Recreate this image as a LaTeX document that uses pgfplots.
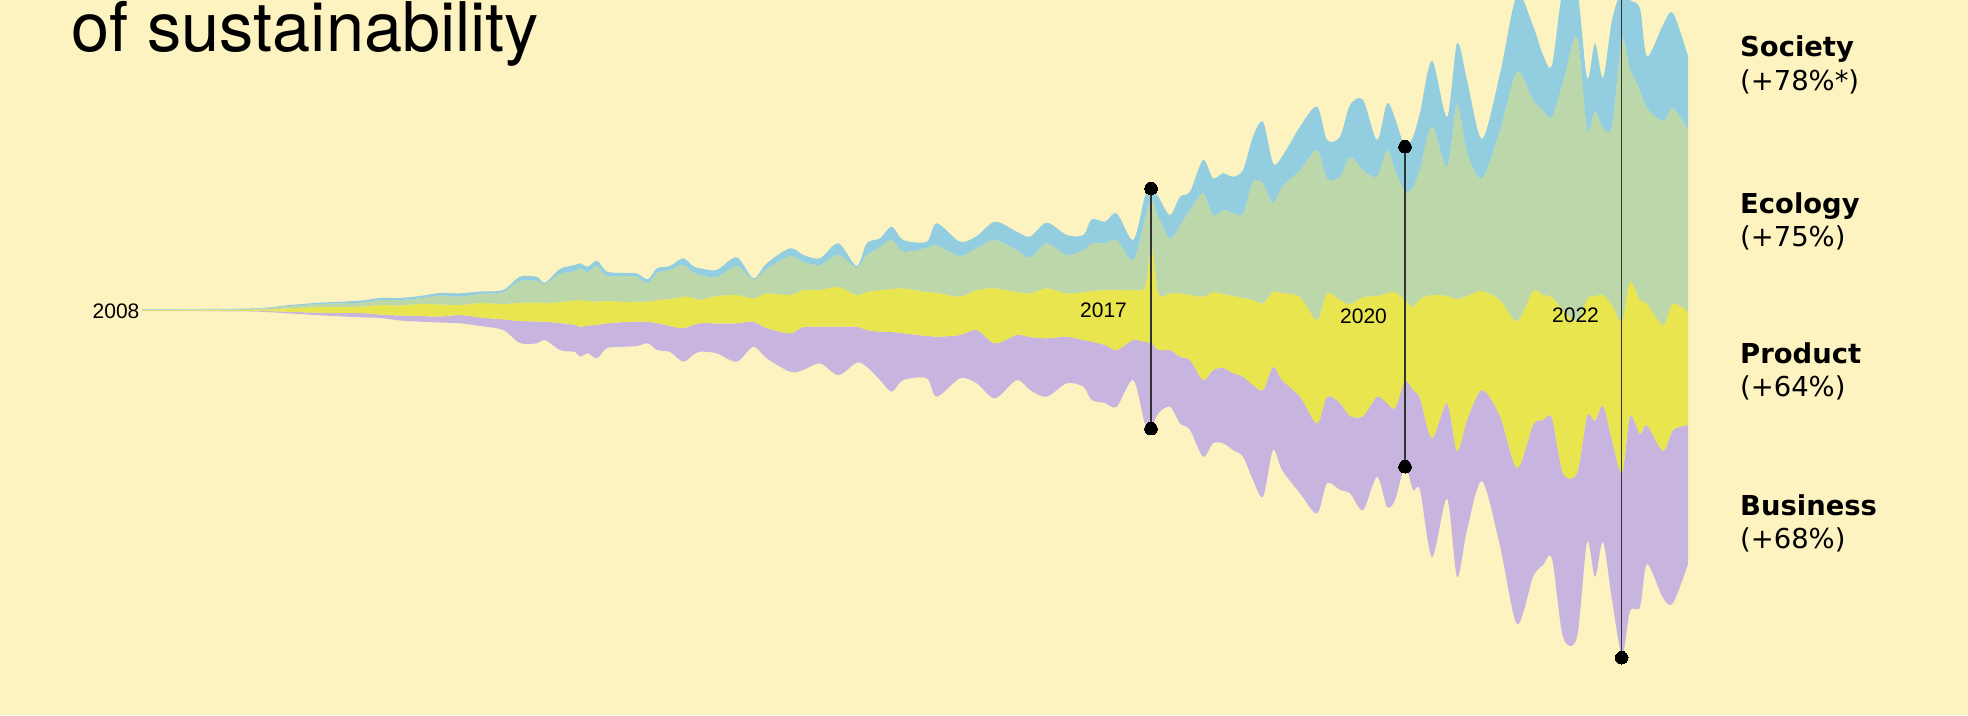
\documentclass[border=0pt]{standalone}
\usepackage{pgfplots}
\pgfplotsset{compat=1.18}
\usepackage{pgfplotstable}
\usepgfplotslibrary{fillbetween}
\usepackage{fontspec}
\setmainfont{TeX Gyre Heros}
\newfontfamily\arial{Liberation Sans}
\newfontfamily\dejavu{DejaVu Sans}
\definecolor{bg}{HTML}{FCF3C0}
\definecolor{cblue}{HTML}{93CDE0}
\definecolor{cgreen}{HTML}{BCD8AA}
\definecolor{cyellow}{HTML}{E8E54E}
\definecolor{cpurple}{HTML}{C8B5DF}

% x, b0 = bottom of Business, b1 = Business/Product, b2 = Product/Ecology, b3 = Ecology/Society, b4 = top of Society (pixel rows, downward)
\pgfplotstableread{
x b0 b1 b2 b3 b4
142 311 310.5 310 309.6 309.2
250 311.5 310.8 309.8 309 308.5
290 313.5 311.8 308.3 306 305
320 315.3 312.7 307 304 302.7
360 317.3 313 306.7 302.7 300.7
380 318 314.5 305 300 298
400 320.5 315.5 305.5 300 298
420 321.7 316 304 298.3 296
440 322.5 316.5 304.5 295.5 293
460 323.3 315 305 296.7 293.3
480 326 317.5 303 294 291.5
503 330 319.3 304 292 290
520 343 321 302.7 280.7 276.7
537 343.3 321.5 302.5 281 277
545 340 321.7 303 284 282.7
560 350 323 302 274 269
575 352 325 300.5 271 265
580 356.7 326.7 300 268.3 263.3
588 353.3 325.5 301 272 266.7
597 358.3 325 301.7 266 260.7
607 348 323.3 301 276 271.7
625 346.7 322 302 276 273
637 346 321.7 301.5 277 273.5
648 343.3 321.7 301.7 283 279.3
657 350 323 300 273 268.3
670 352 326 299 270 266
683 361.7 328.3 296.7 265 258.3
693 355 325 297.5 272 266
700 351.7 323.3 300 275 268.3
716.7 353.3 323.3 296 277 270
736.7 361.7 323.3 295 266 257.3
753.3 346.7 321.7 298.3 279.3 278.3
766.7 358.3 328 293.3 269 263.3
790 371.7 333.3 295 256 248.3
803.3 370 327 290 262 255
820 363.3 326.7 290 265 258.3
838.3 375 326.7 287 255 243.3
856.7 362.7 326.7 295 267.3 266
866.7 366.7 330 292 255 243.3
880 380 331.7 290 247 238.3
891.7 391.7 332 289 240 226.7
903.3 380 333.3 288.3 251.7 240
926.7 378.3 336 292 248 241.7
936.7 396.7 336.7 292.7 245 223.3
960 378.3 335 296.7 256 241.7
976.7 383.3 330 290 248 236
995 398.3 343.3 288.3 240 221.7
1016.7 380 335 292 250 231.7
1030 390 337 293.3 257.3 236.7
1046.7 396.7 338.3 288.3 243.3 222.7
1066.7 383.3 336.7 293.3 255 235
1083.3 386.7 340 292 250 235
1091.7 400 341.7 291 243.3 219.3
1105 403 345 290 243 221.7
1116.7 406.7 350 290 240 213.3
1133.3 380 340 290 260 240
1145 424 342 287 218 196
1151.7 426 343.3 246.7 199 189
1158.3 413.3 350 294 216.7 196.7
1170 406.7 350 293.3 238.3 215
1180 423.3 356.7 293.3 225 196.7
1190 430 360 295 210 191.7
1203 456.7 380 296.7 193.3 160
1213 443.3 370 292 215 178.3
1223 443.3 368 294 210 173.3
1233 450 373 296 213 176.7
1243 456.7 376.7 298 213.3 170
1253 480 385 300 181.7 136.7
1263 496.7 390 303.3 183.3 121.7
1273 450 366.7 291.7 203.3 163.3
1282 470 380 293 186.7 156.7
1300 493.3 396.7 296.7 170 126.7
1317 513.3 423.3 320 150 106.7
1327 483.3 396.7 293.3 178.3 140
1340 490 403 300 176.7 136.7
1350 493.3 416 304 156.7 105
1363 510 416 297 170 100
1377 476.7 396.7 296 176.7 140
1387 506.7 403 293.3 150 103.3
1395 500 408 292 170 118.3
1405 466.7 381 300 191.7 146.7
1413 490 390 306.7 186.7 136.7
1420 490 398 299 169 112.7
1432 557 438 295 126 60.7
1447 498.7 403 296 167 117
1457 577 451 299 104 43.4
1467 530 420 296 152 80
1482 481 390 291 178 138.8
1500 546 416 300 130 73.7
1517 624 468 321 72 -5
1533 577 425 291 100 26
1543 565 420 295 110 55
1552 559 418 297 117 65
1563 637 473 310 82 -10
1577 637 473 321 37 -10
1587 542 416 299 130 78
1595 577 420.6 296 111 43.4
1603 542 405.5 295 128 78
1612 600 440 305 126 20
1622 655 473 321 39 -10
1630 611 416 282 69 0
1640 607 434 300 90 8.7
1647 564 425 303.6 108 56.4
1663 598 451 325 121 25
1673 603 430 303.6 108 13
1688 564 425 312 130 56.4
}\stream

\begin{document}
\begin{tikzpicture}
\begin{axis}[
  scale only axis, width=1968bp, height=715bp,
  xmin=0, xmax=1968, ymin=0, ymax=715, y dir=reverse,
  axis lines=none, ticks=none, clip=true,
  axis background/.style={fill=bg},
]
\addplot[draw=none, smooth, tension=0.5, name path=p0] table[x=x, y=b0] {\stream};
\addplot[draw=none, smooth, tension=0.5, name path=p1] table[x=x, y=b1] {\stream};
\addplot[draw=none, smooth, tension=0.5, name path=p2] table[x=x, y=b2] {\stream};
\addplot[draw=none, smooth, tension=0.5, name path=p3] table[x=x, y=b3] {\stream};
\addplot[draw=none, smooth, tension=0.5, name path=p4] table[x=x, y=b4] {\stream};
\addplot[fill=cpurple, draw=none] fill between[of=p0 and p1];
\addplot[fill=cyellow, draw=none] fill between[of=p1 and p2];
\addplot[fill=cgreen, draw=none] fill between[of=p2 and p3];
\addplot[fill=cblue, draw=none] fill between[of=p3 and p4];

% year markers
\addplot[draw=black!80, line width=1.3bp, mark=*, mark size=6.3bp, mark options={fill=black, draw=black, line width=0pt}] coordinates {(1151,188.5) (1151,428.7)};
\addplot[draw=black!80, line width=1.3bp, mark=*, mark size=6.3bp, mark options={fill=black, draw=black, line width=0pt}] coordinates {(1405,146.7) (1405,466.7)};
\addplot[draw=black!80, line width=1.3bp] coordinates {(1621.7,-20) (1621.7,657.7)};
\addplot[only marks, mark=*, mark size=6.3bp, mark options={fill=black, draw=black, line width=0pt}] coordinates {(1621.7,657.7)};

% title
\node[anchor=base west, inner sep=0pt] at (axis cs:71,52) {\fontsize{68.5bp}{72bp}\selectfont of sustainability};

% year labels
\node[anchor=base west, inner sep=0pt] at (axis cs:92.5,318.5) {\arial\fontsize{21bp}{24bp}\selectfont 2008};
\node[anchor=base west, inner sep=0pt] at (axis cs:1080,317.7) {\arial\fontsize{21bp}{24bp}\selectfont 2017};
\node[anchor=base west, inner sep=0pt] at (axis cs:1340,324) {\arial\fontsize{21bp}{24bp}\selectfont 2020};
\node[anchor=base west, inner sep=0pt] at (axis cs:1552,323) {\arial\fontsize{21bp}{24bp}\selectfont 2022};

% category labels
\node[anchor=base west, inner sep=0pt] at (axis cs:1740,56.7) {\dejavu\fontsize{27.4bp}{30bp}\selectfont\bfseries Society};
\node[anchor=base west, inner sep=0pt] at (axis cs:1740,90.7) {\dejavu\fontsize{27.4bp}{30bp}\selectfont (+78\%*)};
\node[anchor=base west, inner sep=0pt] at (axis cs:1740,213.3) {\dejavu\fontsize{27.4bp}{30bp}\selectfont\bfseries Ecology};
\node[anchor=base west, inner sep=0pt] at (axis cs:1740,246.7) {\dejavu\fontsize{27.4bp}{30bp}\selectfont (+75\%)};
\node[anchor=base west, inner sep=0pt] at (axis cs:1740,363.3) {\dejavu\fontsize{27.4bp}{30bp}\selectfont\bfseries Product};
\node[anchor=base west, inner sep=0pt] at (axis cs:1740,396.7) {\dejavu\fontsize{27.4bp}{30bp}\selectfont (+64\%)};
\node[anchor=base west, inner sep=0pt] at (axis cs:1740,515) {\dejavu\fontsize{27.4bp}{30bp}\selectfont\bfseries Business};
\node[anchor=base west, inner sep=0pt] at (axis cs:1740,548.3) {\dejavu\fontsize{27.4bp}{30bp}\selectfont (+68\%)};
\end{axis}
\end{tikzpicture}
\end{document}
